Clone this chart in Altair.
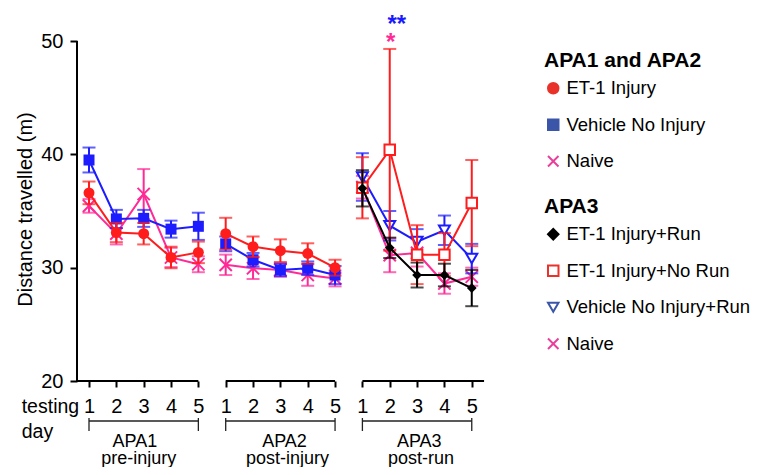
import altair as alt
import pandas as pd

# ---------------- data ----------------
days = [1, 2, 3, 4, 5]
phases = ["APA1", "APA2", "APA3"]
phase_notes = ["pre-injury", "post-injury", "post-run"]

# APA1 and APA2 groups: APA1 days 1-5 followed by APA2 days 1-5
et1_injury = [36.6, 33.1, 33.0, 30.9, 31.35, 33.0, 31.85, 31.5, 31.25, 30.0]
et1_injury_err = [1.0, 0.85, 0.95, 0.95, 0.95, 1.4, 0.9, 1.0, 0.9, 0.7]
vehicle_no_injury = [39.5, 34.3, 34.35, 33.4, 33.65, 32.1, 30.7, 29.8, 29.95, 29.35]
vehicle_no_injury_err = [1.1, 0.8, 0.75, 0.75, 1.2, 0.65, 0.6, 0.55, 0.6, 0.8]
naive_12 = [35.45, 33.0, 36.5, 30.9, 30.3, 30.25, 29.95, 29.8, 29.35, 29.05]
naive_12_err = [0.6, 0.95, 2.2, 0.85, 0.7, 0.9, 0.95, 0.6, 0.95, 0.7]

# APA3 groups: days 1-5
et1_run = [37.0, 31.75, 29.35, 29.35, 28.2]
et1_run_err = [1.6, 0.9, 1.1, 1.0, 1.6]
et1_no_run = [37.05, 40.4, 31.15, 31.15, 35.7]
et1_no_run_err = [2.7, 8.9, 2.6, 1.9, 3.8]
vehicle_run = [38.0, 33.7, 32.3, 33.3, 30.8]
vehicle_run_err = [2.1, 1.3, 1.1, 1.3, 1.3]
naive_3 = [37.1, 31.1, 31.3, 28.6, 29.2]
naive_3_err = [1.0, 1.5, 1.2, 0.9, 0.8]

legend12_names = ["ET-1 Injury", "Vehicle No Injury", "Naive"]
legend3_names = ["ET-1 Injury+Run", "ET-1 Injury+No Run", "Vehicle No Injury+Run", "Naive"]
y_ticks = [20, 30, 40, 50]
star_texts = ["**", "*"]
star_day = 2  # APA3 day 2

# ---------------- styling / layout ----------------
FONT = "Liberation Sans"
RED = "#ff1c1c"
BLUE = "#1c1cff"
PINK = "#ff2a96"
BLACK = "#000000"
LEG_RED = "#e8322a"
LEG_BLUE = "#3b55a8"
LEG_PINK = "#e8409a"
XPATH = "M-1,-1L1,1M-1,1L1,-1"

PX_PER_DAY = 27.34
PX_PER_UNIT = 340 / 30.0
W, H = 684, 459
XMIN = 1 - 12 / PX_PER_DAY
XMAX = XMIN + W / PX_PER_DAY
YHI = 50 + 33 / PX_PER_UNIT
YLO = YHI - H / PX_PER_UNIT
AXIS_Y = 381 - 8  # plot-relative pixel row of value 20

x_axis = alt.Axis(values=list(range(1, 16)),
                  labelExpr="'' + ((datum.value - 1) % 5 + 1)",
                  domain=False, tickSize=6, tickWidth=2, tickColor="black",
                  labelFontSize=20, labelFont=FONT, labelColor="black",
                  labelPadding=9, offset=-(H - AXIS_Y), grid=False, title=None,
                  labelFlush=False, labelOverlap=False)
y_axis = alt.Axis(values=y_ticks, domain=False, tickSize=7, tickWidth=2,
                  tickColor="black", labelFontSize=20, labelFont=FONT,
                  labelColor="black", labelPadding=7, grid=False,
                  title="Distance travelled (m)", titleFontSize=20,
                  titleFont=FONT, titleFontWeight="normal", titleColor="black",
                  titleX=-52, titleY=201, titleAngle=270,
                  titleBaseline="middle", titleAlign="center")

xs = alt.Scale(domain=[XMIN, XMAX], nice=False, zero=False)
ys = alt.Scale(domain=[YLO, YHI], nice=False, zero=False)


def X(f):
    return alt.X(f, type="quantitative", scale=xs, axis=x_axis)


def Y(f):
    return alt.Y(f, type="quantitative", scale=ys, axis=y_axis)


def series_df(means, errs, first_phase):
    rows = []
    for i, (m, e) in enumerate(zip(means, errs)):
        ph = first_phase + i // 5
        d = days[i % 5]
        rows.append({"idx": ph * 5 + d, "phase": phases[ph], "mean": m,
                     "lo": m - e, "hi": m + e})
    return pd.DataFrame(rows)


def series_layers(df, color, shape, size, fill=None):
    base = alt.Chart(df)
    out = [
        base.mark_rule(color=color, strokeWidth=2).encode(x=X("idx"), y=Y("lo"), y2="hi"),
        base.mark_tick(orient="horizontal", size=13, thickness=2, color=color).encode(x=X("idx"), y=Y("lo")),
        base.mark_tick(orient="horizontal", size=13, thickness=2, color=color).encode(x=X("idx"), y=Y("hi")),
        base.mark_line(color=color, strokeWidth=2).encode(x=X("idx"), y=Y("mean"), detail="phase:N"),
    ]
    if fill == "solid":
        pts = base.mark_point(shape=shape, size=size, filled=True, color=color, opacity=1)
    elif fill is None:
        pts = base.mark_point(shape=shape, size=size, filled=False, color=color, strokeWidth=2, opacity=1)
    else:
        pts = base.mark_point(shape=shape, size=size, filled=True, fill=fill, stroke=color,
                              strokeWidth=2, opacity=1)
    out.append(pts.encode(x=X("idx"), y=Y("mean")))
    return out


layers = []
# decorations: y-axis line and broken x-axis line
layers.append(alt.Chart(pd.DataFrame({"a": [y_ticks[0]], "b": [y_ticks[-1]]})).mark_rule(
    color="black", strokeWidth=2).encode(x=alt.value(0), y=Y("a"), y2="b"))
seg = pd.DataFrame({"s": [XMIN, 6, 11], "e": [5, 10, 15.45], "y": [20, 20, 20]})
layers.append(alt.Chart(seg).mark_rule(color="black", strokeWidth=2).encode(
    x=X("s"), x2="e", y=Y("y")))

# series (back to front)
layers += series_layers(series_df(naive_12, naive_12_err, 0), PINK, XPATH, 150)
layers += series_layers(series_df(vehicle_no_injury, vehicle_no_injury_err, 0), BLUE, "square", 121, "solid")
layers += series_layers(series_df(et1_injury, et1_injury_err, 0), RED, "circle", 120, "solid")
layers += series_layers(series_df(naive_3, naive_3_err, 2), PINK, XPATH, 150)
layers += series_layers(series_df(vehicle_run, vehicle_run_err, 2), BLUE, "triangle-down", 121, "white")
layers += series_layers(series_df(et1_no_run, et1_no_run_err, 2), RED, "square", 110, "white")
layers += series_layers(series_df(et1_run, et1_run_err, 2), BLACK, "diamond", 95, "solid")

# significance stars above APA3 day 2
star_df = pd.DataFrame({"idx": [10 + star_day, 10 + star_day], "t": star_texts})
layers.append(alt.Chart(star_df.iloc[[0]]).mark_text(
    font=FONT, fontSize=24, fontWeight="bold", color="#1a1aff", baseline="alphabetic",
    align="center", dx=7).encode(x=X("idx"), y=alt.value(24), text="t:N"))
layers.append(alt.Chart(star_df.iloc[[1]]).mark_text(
    font=FONT, fontSize=24, fontWeight="bold", color=PINK, baseline="alphabetic",
    align="center", dx=1).encode(x=X("idx"), y=alt.value(42), text="t:N"))

# x-axis captions
layers.append(alt.Chart(pd.DataFrame({"t": ["testing"]})).mark_text(
    font=FONT, fontSize=19.5, color="black", align="left", baseline="alphabetic").encode(
    x=alt.value(21.7 - 77), y=alt.value(405), text="t:N"))
layers.append(alt.Chart(pd.DataFrame({"t": ["day"]})).mark_text(
    font=FONT, fontSize=19.5, color="black", align="left", baseline="alphabetic").encode(
    x=alt.value(21.7 - 77), y=alt.value(430), text="t:N"))

br = pd.DataFrame({"s": [1, 6, 11], "e": [5, 10, 15]})
layers.append(alt.Chart(br).mark_rule(color="#222222", strokeWidth=1.3).encode(
    x=X("s"), x2="e", y=alt.value(413)))
br_ends = pd.DataFrame({"p": [1, 5, 6, 10, 11, 15]})
layers.append(alt.Chart(br_ends).mark_rule(color="#222222", strokeWidth=1.3).encode(
    x=X("p"), y=alt.value(410), y2=alt.value(423)))

grp = pd.DataFrame({"c": [2.68, 8.15, 13.08], "t": phases})
notes = pd.DataFrame({"c": [2.82, 8.26, 13.14], "t": phase_notes})
layers.append(alt.Chart(grp).mark_text(font=FONT, fontSize=18, color="black",
                                       baseline="alphabetic", align="center").encode(
    x=X("c"), y=alt.value(439), text="t:N"))
layers.append(alt.Chart(notes).mark_text(font=FONT, fontSize=18, color="black",
                                         baseline="alphabetic", align="center").encode(
    x=X("c"), y=alt.value(455.5), text="t:N"))


# legends
def leg(title, ly):
    return alt.Legend(title=title, orient="none", legendX=544 - 77, legendY=ly,
                      titleFontSize=21, titleFontWeight="bold", titleFont=FONT,
                      titleColor="black", labelFontSize=18.5, labelFont=FONT,
                      labelColor="black", labelLimit=400, symbolSize=110,
                      symbolStrokeWidth=2, rowPadding=17.5, titlePadding=8,
                      labelOffset=4, padding=0, symbolOpacity=1, titleAnchor="start")


l1 = leg("APA1 and APA2", 42)
leg1 = alt.Chart(pd.DataFrame({"s12": legend12_names})).mark_point(
    filled=True, opacity=0).encode(
    shape=alt.Shape("s12:N", scale=alt.Scale(domain=legend12_names,
                                             range=["circle", "square", XPATH]), legend=l1),
    fill=alt.Fill("s12:N", scale=alt.Scale(domain=legend12_names,
                                           range=[LEG_RED, LEG_BLUE, "transparent"]), legend=l1),
    stroke=alt.Stroke("s12:N", scale=alt.Scale(domain=legend12_names,
                                               range=[LEG_RED, LEG_BLUE, LEG_PINK]), legend=l1),
)
l2 = leg("APA3", 188)
leg2 = alt.Chart(pd.DataFrame({"s3": legend3_names})).mark_point(
    filled=True, opacity=0).encode(
    shape=alt.Shape("s3:N", scale=alt.Scale(domain=legend3_names,
                                            range=["diamond", "square", "triangle-down", XPATH]), legend=l2),
    fill=alt.Fill("s3:N", scale=alt.Scale(domain=legend3_names,
                                          range=[BLACK, "white", "white", "transparent"]), legend=l2),
    stroke=alt.Stroke("s3:N", scale=alt.Scale(domain=legend3_names,
                                              range=[BLACK, LEG_RED, LEG_BLUE, LEG_PINK]), legend=l2),
)
layers += [leg1, leg2]

chart = alt.layer(*layers).resolve_scale(
    fill="independent", stroke="independent", shape="independent"
).properties(
    width=W, height=H,
    padding={"left": 69, "top": 0, "right": 0, "bottom": 0},
    autosize=alt.AutoSizeParams(type="none"),
    background="white",
).configure(font=FONT, view=alt.ViewConfig(stroke=None))

chart.save("out.html", embed_options={"renderer": "svg", "actions": False})
